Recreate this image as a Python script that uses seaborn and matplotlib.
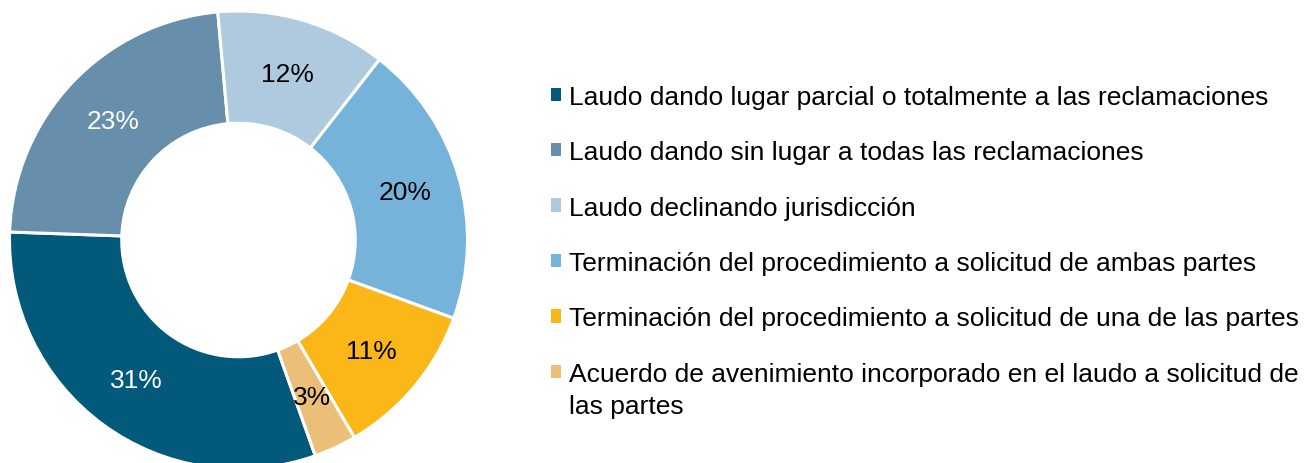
import numpy as np
import matplotlib
matplotlib.use("Agg")
import matplotlib.pyplot as plt
import seaborn as sns

# Data
categories = [
    "Laudo dando lugar parcial o totalmente a las reclamaciones",
    "Laudo dando sin lugar a todas las reclamaciones",
    "Laudo declinando jurisdicción",
    "Terminación del procedimiento a solicitud de ambas partes",
    "Terminación del procedimiento a solicitud de una de las partes",
    "Acuerdo de avenimiento incorporado en el laudo a solicitud de",
]
last_label_wrap = "las partes"
shares = [31, 23, 12, 20, 11, 3]
colors = ["#02597A", "#678FAC", "#AFC9DF", "#76B3DB", "#FBB718", "#EBBF77"]
label_colors = ["white", "white", "black", "black", "black", "black"]

sns.set_style("white")
plt.rcParams["font.family"] = ["Liberation Sans", "DejaVu Sans"]
plt.rcParams["text.color"] = "black"

W, H = 1316, 464
fig = plt.figure(figsize=(W / 100, H / 100), dpi=100)

# donut axes placed in pixels (center ~ (238.5, 241), radius ~229)
cx, cy, R = 238.5, 241, 229
ax = fig.add_axes([(cx - R) / W, (H - cy - R) / H, 2 * R / W, 2 * R / H])

wedges, texts, autotexts = ax.pie(
    shares, colors=colors, startangle=-70.4, counterclock=False,
    autopct="%d%%", pctdistance=0.755,
    wedgeprops=dict(width=0.49, edgecolor="white", linewidth=2.2),
    textprops=dict(fontsize=19),
)
for t, c in zip(autotexts, label_colors):
    t.set_color(c)
ax.set_xlim(-1, 1)
ax.set_ylim(-1, 1)
ax.set_aspect("equal")

leg = fig.legend(
    wedges, categories, loc="upper left",
    bbox_to_anchor=(527 / W, 1 - 62 / H), frameon=False,
    fontsize=19, handlelength=0.4, handleheight=0.4,
    handletextpad=0.3, labelspacing=1.19,
)
for h in leg.legend_handles:
    h.set_edgecolor("none")

# second line of the last legend entry
fig.canvas.draw()
bb = leg.get_texts()[-1].get_window_extent()
fig.text(bb.x0 / W, (bb.y0 - 32) / H, last_label_wrap, fontsize=19,
         ha="left", va="bottom")

fig.savefig("out.png", dpi=100)
